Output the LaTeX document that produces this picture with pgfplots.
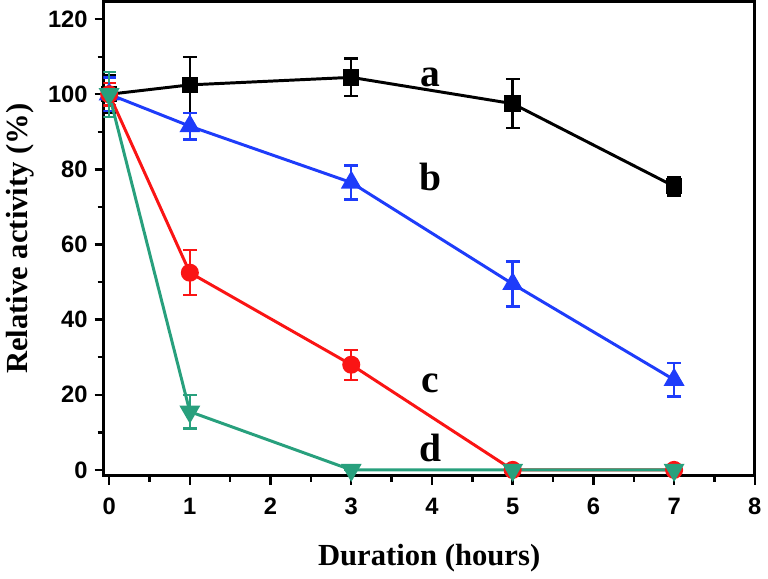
\documentclass[border=0pt]{standalone}
\usepackage{fontspec}
\setmainfont{Liberation Serif}
\setsansfont{Liberation Sans}
\usepackage{pgfplots}
\pgfplotsset{compat=1.18}
\definecolor{cA}{RGB}{0,0,0}
\definecolor{cB}{RGB}{30,60,250}
\definecolor{cC}{RGB}{250,20,20}
\definecolor{cD}{RGB}{40,160,125}
\begin{document}
\begin{tikzpicture}
\begin{axis}[
  scale only axis,
  width=329.5pt, height=240pt,
  xmin=-0.07, xmax=8, ymin=-1.6, ymax=124.7,
  xtick={0,1,...,8}, ytick={0,20,...,120},
  minor x tick num=1, minor y tick num=1,
  axis line style={line width=1.5pt},
  tick style={line width=1.2pt, black},
  tick align=outside,
  major tick length=4.5pt, minor tick length=3pt,
  xtick pos=bottom, ytick pos=left,
  /pgf/number format/assume math mode=true,
  ticklabel style={font=\sffamily\bfseries\fontsize{12}{13}\selectfont},
  xticklabel style={yshift=-3pt},
  xlabel={Duration (hours)}, ylabel={Relative activity (\%)},
  label style={font=\bfseries\fontsize{15.5}{17}\selectfont},
  xlabel style={yshift=-8pt},
  ylabel style={yshift=0pt},
  every axis plot/.append style={line width=1.5pt,
    error bars/y dir=both, error bars/y explicit,
    error bars/error bar style={line width=1.2pt},
    error bars/error mark options={rotate=90, mark size=3.5pt, line width=1.2pt}},
]
\addplot[cA, mark=square*, mark size=3.4pt] coordinates {
 (0,100) +- (0,5) (1,102.5) +- (0,7.5) (3,104.5) +- (0,5) (5,97.5) +- (0,6.5) (7,75.5) +- (0,2.5)};
\addplot[cB, mark=triangle*, mark size=4.6pt] coordinates {
 (0,100) +- (0,4.5) (1,91.5) +- (0,3.5) (3,76.5) +- (0,4.5) (5,49.5) +- (0,6) (7,24) +- (0,4.5)};
\addplot[cC, mark=*, mark size=3.8pt] coordinates {
 (0,100) +- (0,3) (1,52.5) +- (0,6) (3,28) +- (0,4) (5,0) +- (0,0) (7,0) +- (0,0)};
\addplot[cD, mark=triangle*, mark options={rotate=180}, mark size=4.6pt] coordinates {
 (0,100) +- (0,6) (1,15.5) +- (0,4.5) (3,0) +- (0,0) (5,0) +- (0,0) (7,0) +- (0,0)};
\node[font=\bfseries\fontsize{20}{22}\selectfont] at (axis cs:3.98,104.5) {a};
\node[font=\bfseries\fontsize{20}{22}\selectfont] at (axis cs:3.98,78) {b};
\node[font=\bfseries\fontsize{20}{22}\selectfont] at (axis cs:3.98,23) {c};
\node[font=\bfseries\fontsize{20}{22}\selectfont] at (axis cs:3.98,5.8) {d};
\end{axis}
\end{tikzpicture}
\end{document}
